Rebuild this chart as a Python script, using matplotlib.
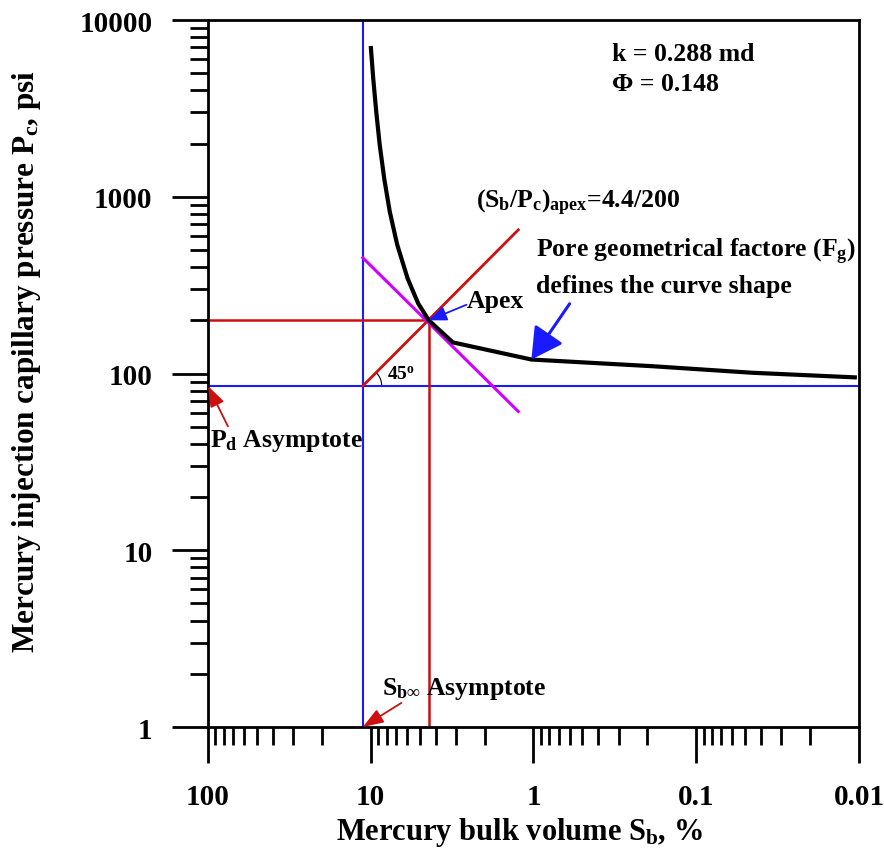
"""Mercury injection capillary pressure curve with Thomeer asymptotes and apex."""
import matplotlib
matplotlib.use("Agg")
import matplotlib.pyplot as plt
import numpy as np
from matplotlib.patches import Arc
from matplotlib.transforms import ScaledTranslation
from matplotlib.ticker import LogLocator, NullFormatter

plt.rcParams.update({
    "font.family": "Liberation Serif",
    "font.weight": "bold",
    "mathtext.fontset": "custom",
    "mathtext.rm": "Liberation Serif:bold",
    "mathtext.it": "Liberation Serif:bold",
    "mathtext.bf": "Liberation Serif:bold",
})

# data
sb_curve = [10.0, 9.65, 9.25, 8.81, 8.26, 7.64, 6.88, 5.93, 5.11,
            4.4, 3.13, 1.03, 0.186, 0.0453, 0.0103]
pc_curve = [7130, 4640, 3020, 1967, 1264, 823, 536, 344, 249,
            200, 150, 120, 110, 101, 95]
sb_inf = 11.2          # Sb-infinity asymptote, %
pd = 85.0              # displacement pressure asymptote, psi
sb_apex, pc_apex = 4.4, 200.0
red_diag_sb = [11.2, 1.24]
red_diag_pc = [85.0, 650.0]
mag_sb = [11.2, 1.24]
mag_pc = [452.0, 61.0]

x_ticks = [100, 10, 1, 0.1, 0.01]
x_labels = ["100", "10", "1", "0.1", "0.01"]
y_ticks = [1, 10, 100, 1000, 10000]
y_labels = ["1", "10", "100", "1000", "10000"]

BLUE = "#1a1aff"
RED = "#cc1010"
MAGENTA = "#d000ff"

fig = plt.figure(figsize=(8.84, 8.54), dpi=100)
ax = fig.add_axes([0.2353, 0.1475, 0.7364, 0.8279])
ax.set_xscale("log")
ax.set_yscale("log")
ax.set_xlim(100, 0.01)
ax.set_ylim(1, 10000)

# asymptotes and apex construction lines
ax.axvline(sb_inf, color=BLUE, lw=1.5, zorder=2)
ax.axhline(pd, color=BLUE, lw=1.5, zorder=2)
ax.plot([100, sb_apex], [pc_apex, pc_apex], color=RED, lw=1.8, zorder=2)
ax.plot([sb_apex, sb_apex], [1, pc_apex], color=RED, lw=1.8, zorder=2)
ax.plot(red_diag_sb, red_diag_pc, color=RED, lw=2, zorder=3)
ax.plot(mag_sb, mag_pc, color=MAGENTA, lw=2.2, zorder=3)

# capillary pressure curve
ax.plot(sb_curve, pc_curve, color="black", lw=3, zorder=4,
        solid_joinstyle="round", solid_capstyle="butt")

# 45 degree arc at the asymptote corner
arc_tr = fig.dpi_scale_trans + ScaledTranslation(sb_inf, pd, ax.transData)
ax.add_patch(Arc((0, 0), 0.38, 0.38, theta1=0, theta2=45, transform=arc_tr,
                 color="black", lw=0.8))
ax.text(0.275, 0.4922, r"45$^{\mathrm{o}}$", transform=ax.transAxes,
        fontsize=14, va="baseline")

# texts
ax.text(0.6206, 0.9533, "k = 0.288 md", transform=ax.transAxes,
        fontsize=18.5, va="center")
ax.text(0.6206, 0.9095, "Φ = 0.148", transform=ax.transAxes,
        fontsize=18.5, va="center")
ax.text(0.4117, 0.7355, r"$(S_b/P_c)_{apex}$=4.4/200", transform=ax.transAxes,
        fontsize=18.5, va="baseline")
ax.text(0.504, 0.6662, r"Pore geometrical factore ($F_g$)",
        transform=ax.transAxes, fontsize=18.5, va="baseline")
ax.text(0.504, 0.6157, "defines the curve shape", transform=ax.transAxes,
        fontsize=18.5, va="baseline")
ax.text(0.3978, 0.594, "Apex", transform=ax.transAxes, fontsize=18.5,
        va="baseline")
ax.text(0.003, 0.3979, r"$P_d$ Asymptote", transform=ax.transAxes,
        fontsize=18.5, va="baseline")
ax.text(0.267, 0.0467, r"$S_{b\infty}$ Asymptote", transform=ax.transAxes,
        fontsize=18.5, va="baseline")

# arrows
ax.annotate("", xy=(sb_apex, pc_apex), xytext=(2.58, 245),
            arrowprops=dict(arrowstyle="-|>,head_length=0.6,head_width=0.25",
                            color=BLUE, lw=1.3, mutation_scale=18,
                            shrinkA=0, shrinkB=0), zorder=5)
ax.annotate("", xy=(1.03, 120), xytext=(0.60, 248),
            arrowprops=dict(arrowstyle="-|>,head_length=1.0,head_width=0.55",
                            color=BLUE, lw=2.2, mutation_scale=19,
                            shrinkA=0, shrinkB=0), zorder=5)
ax.annotate("", xy=(100, pd), xytext=(75.4, 50.2),
            arrowprops=dict(arrowstyle="-|>,head_length=0.7,head_width=0.25",
                            color=RED, lw=1.3, mutation_scale=18,
                            shrinkA=0, shrinkB=0), zorder=5)
ax.annotate("", xy=(sb_inf, 1), xytext=(6.48, 1.37),
            arrowprops=dict(arrowstyle="-|>,head_length=0.7,head_width=0.25",
                            color=RED, lw=1.3, mutation_scale=18,
                            shrinkA=0, shrinkB=0), zorder=5,
            annotation_clip=False)

# axes styling
ax.set_xticks(x_ticks)
ax.set_xticklabels(x_labels)
ax.set_yticks(y_ticks)
ax.set_yticklabels(y_labels)
for axis in (ax.xaxis, ax.yaxis):
    axis.set_minor_locator(LogLocator(base=10, subs=np.arange(2, 10)))
    axis.set_minor_formatter(NullFormatter())
ax.tick_params(which="major", direction="out", length=26, width=2,
               top=False, right=False, labelsize=21, pad=14)
ax.tick_params(which="minor", direction="out", length=13, width=2,
               top=False, right=False)
for sp in ax.spines.values():
    sp.set_linewidth(2)

fig.text(0.587, 0.0164, r"Mercury bulk volume $S_b$, %", fontsize=22,
         ha="center", va="baseline")
fig.text(0.03, 0.577, r"Mercury injection capillary pressure $P_c$, psi",
         fontsize=22.5, rotation=90, ha="center", va="center")

fig.savefig("out.png", dpi=100)
